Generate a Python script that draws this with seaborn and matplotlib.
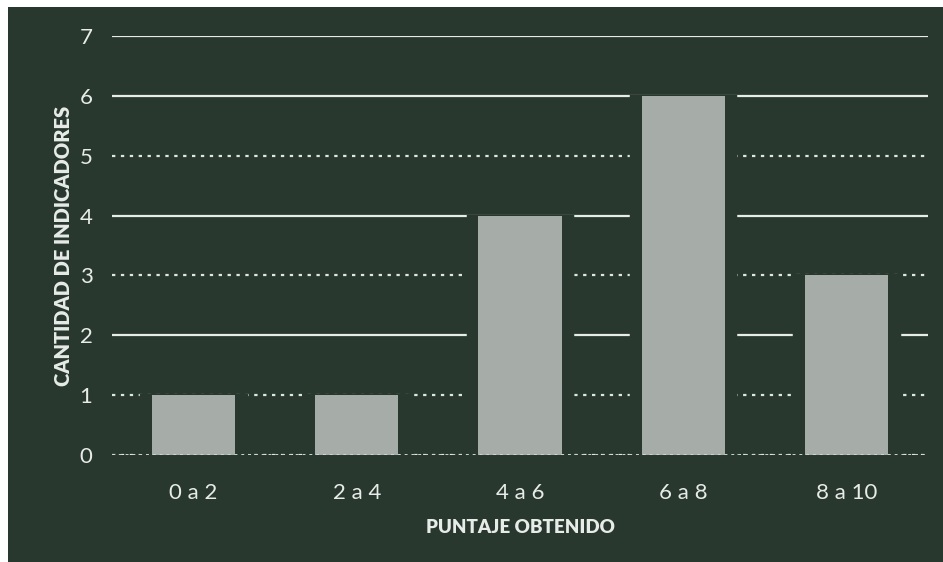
import matplotlib
matplotlib.use("Agg")
import matplotlib.pyplot as plt
import seaborn as sns
import pandas as pd
from matplotlib.patches import Rectangle

categorias = ["0 a 2", "2 a 4", "4 a 6", "6 a 8", "8 a 10"]
cantidad = [1, 1, 4, 6, 3]
yticks = [0, 1, 2, 3, 4, 5, 6, 7]

bg = "#29382f"
bar_color = "#a6aca8"
txt = "#e8ece9"

sns.set_theme(style="dark")
plt.rcParams['font.family'] = ['Lato', 'DejaVu Sans']

fig = plt.figure(figsize=(9.43, 5.62), dpi=100, facecolor="white")
fig.patches.append(Rectangle((8/943, 0), 1, 1 - 7/562, transform=fig.transFigure,
                             facecolor=bg, edgecolor="none", zorder=-5))
ax = fig.add_axes([112/943, 1 - 455/562, 816/943, 419/562])
ax.set_facecolor(bg)
ax.patch.set_alpha(0)

df = pd.DataFrame({"cat": categorias, "val": cantidad})

ax.set_ylim(0, 7)
ax.set_yticks(yticks)
for y in yticks:
    if y in (0, 1, 3, 5):
        ax.axhline(y, color="#dfe5e1", lw=1.6, ls=(0, (1.5, 2.5)), zorder=1)
    else:
        ax.axhline(y, color="#e6ece8", lw=1.6, zorder=1)

# gap around bars (grid lines stop short of the bars)
sns.barplot(data=df, x="cat", y="val", color=bg, width=0.64, ax=ax,
            edgecolor=bg, linewidth=2.5, saturation=1, zorder=2)
sns.barplot(data=df, x="cat", y="val", color=bar_color, width=0.51, ax=ax,
            edgecolor="none", saturation=1, zorder=3)
for p in ax.patches[:5]:
    p.set_zorder(2)
for p in ax.patches[5:]:
    p.set_zorder(3)
ax.axhline(0, xmin=0, xmax=1, color="#cfd6d2", lw=1.4, ls=(0, (1.5, 2.0)), zorder=4)

ax.set_xlim(-0.5, 4.5)
for s in ax.spines.values():
    s.set_visible(False)
ax.grid(False)
ax.tick_params(axis="both", length=0, colors=txt, labelsize=16)
ax.tick_params(axis="y", pad=14)
ax.tick_params(axis="x", pad=20)
ax.set_xlabel("PUNTAJE OBTENIDO", color=txt, fontsize=13.5, fontweight="heavy",
              labelpad=12, family=["Lato", "DejaVu Sans"])
ax.set_ylabel("CANTIDAD DE INDICADORES", color=txt, fontsize=14.5, fontweight="heavy",
              labelpad=5, family=["Lato", "DejaVu Sans"])

fig.savefig("out.png", dpi=100, facecolor=fig.get_facecolor())
